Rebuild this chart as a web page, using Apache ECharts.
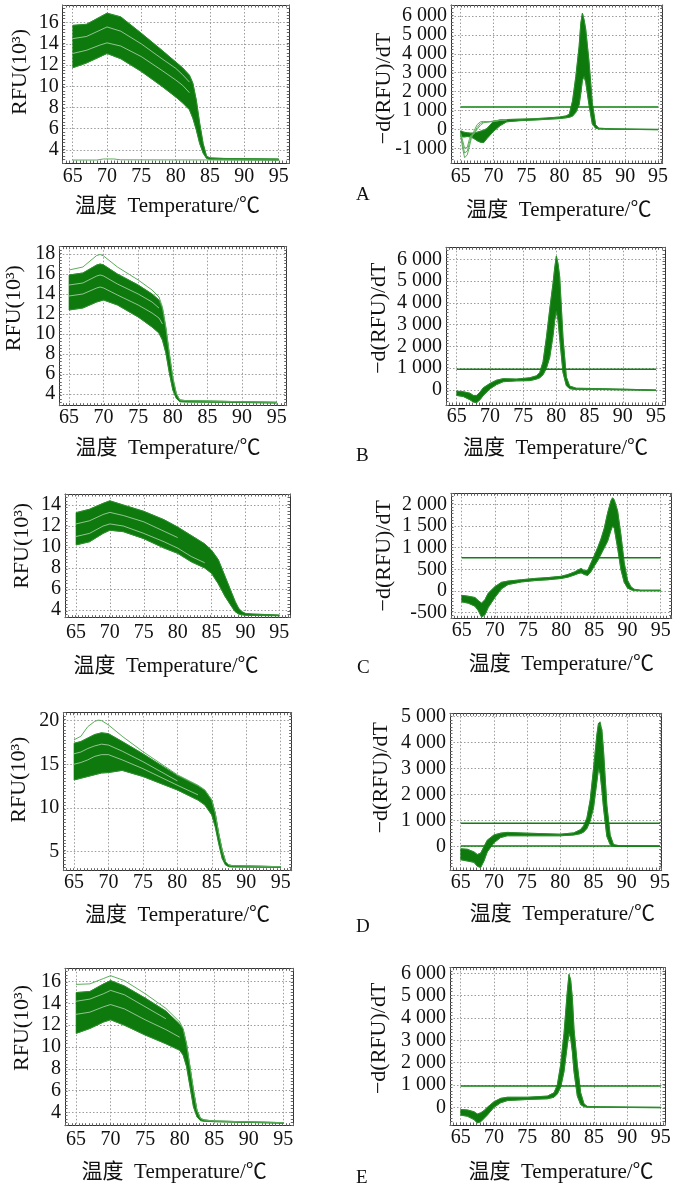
<!DOCTYPE html>
<html><head><meta charset="utf-8">
<script src="https://cdn.jsdelivr.net/npm/echarts@6/dist/echarts.min.js"></script>
<style>html,body{margin:0;padding:0;background:#fff}#c{width:674px;height:1185px}</style>
</head><body><div id="c"></div>
<script>
// ---------- tick labels ----------
const X_TICKS = [65, 70, 75, 80, 85, 90, 95];
const Y_AL = [4, 6, 8, 10, 12, 14, 16];
const Y_AR = [-1000, 0, 1000, 2000, 3000, 4000, 5000, 6000];
const Y_BL = [4, 6, 8, 10, 12, 14, 16, 18];
const Y_BR = [0, 1000, 2000, 3000, 4000, 5000, 6000];
const Y_CL = [4, 6, 8, 10, 12, 14];
const Y_CR = [-500, 0, 500, 1000, 1500, 2000];
const Y_DL = [5, 10, 15, 20];
const Y_DR = [0, 1000, 2000, 3000, 4000, 5000];
const Y_EL = [4, 6, 8, 10, 12, 14, 16];
const Y_ER = [0, 1000, 2000, 3000, 4000, 5000, 6000];
const X_NAME = '温度  Temperature/℃';
const Y_NAME_L = 'RFU(10³)';
const Y_NAME_R = '−d(RFU)/dT';
const LETTERS = ['A', 'B', 'C', 'D', 'E'];
const T_THR = [65, 95];

// ---------- A ----------
const T_AL = [65, 67, 69, 70, 72, 75, 78, 80, 81, 82, 82.5, 83, 83.5, 84, 84.5, 85, 87, 95];
const AL_UP = [15.75, 15.85, 16.55, 16.9, 16.55, 15.0, 13.4, 12.3, 11.75, 11.05, 10.3, 8.7, 6.5, 4.6, 3.4, 3.25, 3.2, 3.15];
const AL_LO = [11.75, 12.2, 12.8, 13.1, 12.6, 11.4, 10.0, 9.0, 8.45, 7.8, 7.0, 5.9, 4.6, 3.7, 3.2, 3.1, 3.08, 3.05];
const AL_S1 = [13.1, 13.4, 13.9, 14.1, 13.8, 12.8, 11.5, 10.6, 10.1, 9.4, null, null, null, null, null, null, null, null];
const AL_S2 = [14.5, 14.7, 15.3, 15.6, 15.2, 14.0, 12.6, 11.7, 11.1, 10.4, null, null, null, null, null, null, null, null];
const AL_CTRL_T = [65, 68.5, 69.5, 71, 72, 95];
const AL_CTRL = [3.05, 3.05, 3.15, 3.15, 3.07, 3.05];

const T_AR = [65, 65.5, 66, 66.5, 67, 67.5, 68, 68.5, 69, 70, 71, 72, 74, 76, 78, 80, 81, 81.5, 82, 82.5, 83, 83.25, 83.5, 83.75, 84, 84.5, 85, 85.5, 86, 88, 90, 95];
const AR_UP = [-80, -150, -180, -200, -200, -150, -100, -50, 50, 430, 500, 520, 540, 560, 600, 650, 710, 800, 1500, 2800, 4400, 5600, 6150, 5800, 5300, 3600, 1400, 250, 60, 30, 20, 0];
const AR_LO = [-380, -400, -380, -400, -480, -600, -680, -700, -480, -100, 200, 400, 460, 490, 530, 570, 610, 640, 700, 900, 1300, 1900, 2600, 2800, 2500, 1300, 300, 60, 20, 0, 0, -20];
const T_ARO = [65, 65.3, 65.6, 66, 66.3, 66.6, 67, 67.5, 68, 68.5, 69, 70, 71, 72];
const ARO1 = [-300, -1000, -1500, -1350, -950, -500, -100, 250, 400, 420, 400, 430, 480, 510];
const ARO2 = [-250, -800, -1250, -1150, -750, -400, -200, 100, 320, 380, 400, 430, 480, 510];
const ARO3 = [-200, -600, -1000, -950, -550, -300, -250, 0, 220, 350, 380, 420, 470, 510];
const AR_THR = [1180, 1180];

// ---------- B ----------
const T_BL = [65, 67, 69, 69.5, 70, 72, 75, 77, 78, 78.5, 79, 79.5, 80, 80.5, 81, 82, 90, 95];
const BL_OUT = [16.4, 16.7, 17.85, 17.95, 17.8, 16.7, 15.4, 14.4, 13.7, 12.7, 10.7, 8.1, 5.7, 4.1, 3.4, 3.33, 3.23, 3.17];
const BL_UP = [15.9, 16.1, 16.9, 17.0, 16.9, 16.0, 14.9, 14.0, 13.4, 12.5, 10.5, 7.9, 5.5, 4.0, 3.4, 3.33, 3.23, 3.17];
const BL_LO = [12.4, 12.6, 13.2, 13.3, 13.4, 12.9, 11.7, 10.7, 10.1, 9.4, 8.1, 6.1, 4.4, 3.57, 3.23, 3.2, 3.15, 3.1];
const BL_S1 = [13.8, 14.0, 14.6, 14.7, 14.6, 13.9, 12.9, 12.1, 11.6, 11.0, null, null, null, null, null, null, null, null];
const BL_S2 = [14.9, 15.1, 15.8, 15.9, 15.8, 15.0, 14.0, 13.2, 12.6, null, null, null, null, null, null, null, null, null];

const T_BR = [65, 66, 67, 67.5, 68, 68.5, 69, 70, 71, 72, 74, 76, 77, 77.5, 78, 78.5, 79, 79.5, 79.75, 80, 80.25, 80.5, 81, 81.5, 82, 83, 87, 95];
const BR_UP = [-50, -80, -150, -250, -250, -100, 100, 300, 450, 520, 500, 560, 650, 800, 1300, 2400, 3700, 4900, 5600, 6150, 5800, 5200, 2400, 600, 180, 80, 60, 0];
const BR_LO = [-250, -300, -450, -550, -580, -450, -250, 50, 250, 380, 420, 430, 500, 560, 700, 1000, 1500, 2500, 3200, 3600, 3200, 2400, 800, 200, 60, 20, 20, -20];
const BR_THR = [950, 950];

// ---------- C ----------
const T_CL = [65, 67, 69, 70, 72, 75, 78, 80, 82, 84, 85, 86, 87, 88, 88.5, 89, 89.5, 90, 91, 95];
const CL_UP = [13.27, 13.6, 14.16, 14.4, 14.0, 13.4, 12.6, 11.9, 11.1, 10.3, 9.7, 8.8, 7.2, 5.6, 4.8, 4.16, 3.84, 3.68, 3.62, 3.52];
const CL_LO = [10.2, 10.5, 11.3, 11.6, 11.46, 10.8, 9.9, 9.4, 8.6, 8.0, 7.5, 6.5, 5.3, 4.3, 3.84, 3.62, 3.55, 3.5, 3.48, 3.46];
const CL_S1 = [11.0, 11.3, 12.0, 12.2, 12.0, 11.3, 10.5, 9.9, 9.1, 8.5, null, null, null, null, null, null, null, null, null, null];
const CL_S2 = [12.2, 12.5, 13.1, 13.3, 13.0, 12.4, 11.5, 10.9, null, null, null, null, null, null, null, null, null, null, null, null];

const T_CR = [65, 66, 67, 67.5, 68, 68.5, 69, 70, 71, 72, 74, 76, 78, 80, 81, 82, 82.5, 83, 83.5, 84, 84.5, 85, 85.5, 86, 86.5, 87, 87.5, 87.75, 88, 88.5, 89, 89.5, 90, 90.5, 91, 92, 95];
const CR_UP = [-100, -120, -150, -220, -280, -200, -50, 100, 200, 230, 260, 290, 310, 340, 380, 440, 480, 520, 470, 480, 650, 820, 1000, 1200, 1450, 1800, 2080, 2150, 2100, 1850, 1300, 650, 250, 100, 40, 20, 20];
const CR_LO = [-250, -280, -350, -450, -600, -550, -380, -150, 50, 150, 210, 240, 260, 290, 320, 370, 400, 420, 380, 360, 450, 580, 700, 850, 1000, 1150, 1400, 1500, 1450, 1000, 500, 200, 70, 30, 10, 5, 5];
const CR_THR = [770, 770];

// ---------- D ----------
const T_DL = [65, 66, 67, 68, 68.5, 69, 70, 72, 75, 80, 83, 84, 85, 85.5, 86, 86.5, 87, 87.5, 88, 95];
const DL_OUT = [17.8, 18.2, 19.3, 19.9, 20.05, 20.0, 19.5, 18.2, 16.45, 13.8, 12.6, 12.06, 10.9, 9.4, 7.1, 5.2, 3.86, 3.47, 3.4, 3.28];
const DL_UP = [17.4, 17.6, 18.0, 18.4, 18.5, 18.6, 18.5, 17.6, 16.2, 13.7, 12.5, 12.0, 10.9, 9.4, 7.1, 5.2, 3.86, 3.47, 3.4, 3.28];
const DL_LO = [13.2, 13.4, 13.6, 13.8, 13.9, 14.0, 14.05, 14.3, 13.6, 12.06, 10.9, 10.34, 9.2, 7.86, 5.95, 4.24, 3.47, 3.28, 3.25, 3.2];
const DL_S1 = [15.0, 15.2, 15.5, 15.9, 16.0, 16.1, 16.1, 15.5, 14.5, 12.6, 11.5, null, null, null, null, null, null, null, null, null];
const DL_S2 = [16.2, 16.4, 16.8, 17.1, 17.2, 17.3, 17.2, 16.5, 15.3, 13.1, null, null, null, null, null, null, null, null, null, null];

const T_DR = [65, 66, 67, 67.5, 68, 68.5, 69, 70, 71, 72, 75, 80, 82, 83, 83.5, 84, 84.5, 85, 85.5, 85.75, 86, 86.25, 86.5, 87, 87.5, 88, 89, 95];
const DR_UP = [-80, -100, -200, -300, -250, 0, 250, 450, 520, 550, 520, 480, 530, 650, 800, 1100, 1800, 3000, 4300, 4750, 4800, 4500, 3700, 1600, 450, 80, 30, 20];
const DR_LO = [-500, -550, -600, -750, -800, -550, -200, 150, 350, 420, 420, 420, 450, 500, 560, 700, 1000, 1500, 2500, 3000, 2800, 2200, 1500, 400, 80, 20, 10, 10];
const DR_THR = [900, 900];
const DR_BASE = [30, 30];

// ---------- E ----------
const T_EL = [65, 67, 69, 70, 72, 75, 78, 80, 80.5, 81, 81.5, 82, 82.5, 83, 83.5, 85, 95];
const EL_OUT = [15.75, 15.8, 16.3, 16.55, 16.1, 14.9, 13.55, 12.3, 11.7, 10.3, 8.2, 6.05, 4.2, 3.45, 3.3, 3.2, 3.05];
const EL_UP = [15.0, 15.1, 15.8, 16.1, 15.6, 14.5, 13.3, 12.1, 11.6, 10.2, 8.1, 6.0, 4.2, 3.45, 3.3, 3.2, 3.05];
const EL_LO = [11.25, 11.7, 12.3, 12.5, 12.0, 11.1, 10.3, 9.7, 9.27, 8.2, 6.36, 4.5, 3.6, 3.24, 3.18, 3.14, 3.0];
const EL_S1 = [13.0, 13.2, 13.7, 13.9, 13.5, 12.5, 11.6, 10.9, null, null, null, null, null, null, null, null, null];
const EL_S2 = [14.2, 14.4, 14.9, 15.2, 14.8, 13.7, 12.6, null, null, null, null, null, null, null, null, null, null];

const T_ER = [65, 66, 67, 67.5, 68, 68.5, 69, 70, 71, 72, 75, 78, 79, 79.5, 80, 80.5, 81, 81.25, 81.5, 81.75, 82, 82.5, 83, 83.5, 84, 86, 95];
const ER_UP = [-100, -120, -200, -300, -250, -150, 0, 250, 400, 450, 450, 500, 650, 1000, 1900, 3300, 5200, 5950, 5700, 4900, 3500, 1900, 650, 150, 40, 20, 0];
const ER_LO = [-350, -400, -550, -700, -650, -500, -350, 0, 200, 300, 350, 380, 450, 600, 900, 1600, 2800, 3300, 3100, 2500, 1600, 500, 120, 30, 0, 0, -20];
const ER_THR = [950, 950];

// ---------- styles ----------
const FONT = '"Liberation Serif","Times New Roman","Noto Sans CJK SC",serif';
const BAND = '#0e7a0e';
const EDGE = '#2b8f2b';
const STREAK = 'rgba(255,255,255,0.55)';
const LIGHT = '#5cae5c';
const THR = '#0f7f0f';

const PANELS = [
  {box:[62.7,5,226.6,158], x:[63.54,96.55], y:[2.77,17.67], yt:Y_AL, side:'L', xm:4, xg:33, xpad:[0,17,0,0], yg:31, ypad:[0,0,0,24],
   bands:[[T_AL,AL_UP,AL_LO]], streaks:[[T_AL,AL_S1],[T_AL,AL_S2]], extras:[[AL_CTRL_T,AL_CTRL]], thr:[]},
  {box:[451,5,211.7,158], x:[63.53,95.7], y:[-1780,6580], yt:Y_AR, side:'R', xm:4, xg:37, xpad:[0,0,0,4], yg:56, ypad:[0,9,0,0],
   bands:[[T_AR,AR_UP,AR_LO]], streaks:[], extras:[[T_ARO,ARO1],[T_ARO,ARO2],[T_ARO,ARO3]], thr:[AR_THR]},
  {box:[59.3,246.7,227.4,159], x:[63.6,96.45], y:[2.83,18.73], yt:Y_BL, side:'L', xm:2, xg:32, xpad:[0,10,0,0], yg:34, ypad:[0,0,0,36],
   bands:[[T_BL,BL_UP,BL_LO]], streaks:[[T_BL,BL_S1],[T_BL,BL_S2]], extras:[[T_BL,BL_OUT]], thr:[]},
  {box:[446,247.3,219,157.7], x:[63.39,96.35], y:[-689,6551], yt:Y_BR, side:'R', xm:2, xg:33, xpad:[0,0,0,0], yg:56, ypad:[0,0,0,16],
   bands:[[T_BR,BR_UP,BR_LO]], streaks:[], extras:[], thr:[BR_THR]},
  {box:[65,494,225,123.7], x:[63.38,96.58], y:[3.27,15.05], yt:Y_CL, side:'L', xm:5, xg:38, xpad:[0,23,0,0], yg:31.5, ypad:[0,0,0,20],
   bands:[[T_CL,CL_UP,CL_LO]], streaks:[[T_CL,CL_S1],[T_CL,CL_S2]], extras:[], thr:[]},
  {box:[451,493.3,220.7,125], x:[63.39,96.66], y:[-629,2254], yt:Y_CR, side:'R', xm:2, xg:36, xpad:[0,0,0,0], yg:56, ypad:[0,0,0,0],
   bands:[[T_CR,CR_UP,CR_LO]], streaks:[], extras:[], thr:[CR_THR]},
  {box:[63.3,712.7,228.4,158], x:[63.45,96.6], y:[2.82,20.9], yt:Y_DL, side:'L', xm:2, xg:34, xpad:[0,0,0,0], yg:33, ypad:[0,0,0,24],
   bands:[[T_DL,DL_UP,DL_LO]], streaks:[[T_DL,DL_S1],[T_DL,DL_S2]], extras:[[T_DL,DL_OUT]], thr:[]},
  {box:[450,713.3,211.7,156.7], x:[63.39,95.26], y:[-896,5128], yt:Y_DR, side:'R', xm:3, xg:34, xpad:[0,0,0,13], yg:58, ypad:[0,0,0,28],
   bands:[[T_DR,DR_UP,DR_LO]], streaks:[], extras:[], thr:[DR_THR,DR_BASE]},
  {box:[65,968.3,228.3,157.4], x:[63.4,96.45], y:[2.77,17.23], yt:Y_EL, side:'L', xm:4, xg:36, xpad:[0,10,0,0], yg:31.5, ypad:[0,0,0,38],
   bands:[[T_EL,EL_UP,EL_LO]], streaks:[[T_EL,EL_S1],[T_EL,EL_S2]], extras:[[T_EL,EL_OUT]], thr:[]},
  {box:[450,967.7,215,157.3], x:[63.4,95.65], y:[-793,6250], yt:Y_ER, side:'R', xm:3, xg:37, xpad:[0,0,0,7], yg:60, ypad:[0,0,0,16],
   bands:[[T_ER,ER_UP,ER_LO]], streaks:[], extras:[], thr:[ER_THR]}
];
const LETTER_POS = [[356,186],[356,447],[357,659],[356,918],[356,1169]];

function fmtR(v) {
  const a = Math.abs(v);
  let s = String(a);
  if (a >= 1000) s = s.slice(0, -3) + ' ' + s.slice(-3);
  return (v < 0 ? '-' : '') + s;
}
function fmtL(v) { return String(v); }
function pairs(T, V) {
  const out = [];
  for (let i = 0; i < T.length; i++) if (V[i] != null) out.push([T[i], V[i]]);
  return out;
}

const grids = [], xAxes = [], yAxes = [], series = [], titles = [];
PANELS.forEach(function (p, gi) {
  const [l, t, w, h] = p.box;
  grids.push({left: l, top: t, width: w, height: h, show: false, outerBoundsMode: 'none', containLabel: false});
  const txt = {fontFamily: FONT, color: '#111'};
  const xi = xAxes.length, yi = yAxes.length;
  xAxes.push({gridIndex: gi, type: 'value', min: p.x[0], max: p.x[1], position: 'bottom',
    axisLine: {show: true, onZero: false, lineStyle: {color: '#333', width: 1}},
    axisTick: {show: false, customValues: X_TICKS},
    axisLabel: Object.assign({customValues: X_TICKS, fontSize: 20, margin: p.xm, hideOverlap: false}, txt),
    splitLine: {show: true, lineStyle: {color: '#9c9c9c', type: [1.5, 2], width: 1}},
    name: X_NAME, nameLocation: 'middle', nameGap: p.xg, nameMoveOverlap: false,
    nameTextStyle: Object.assign({fontSize: 21, padding: p.xpad}, txt)});
  ['bottom', 'top'].forEach(function (pos) {
    xAxes.push({gridIndex: gi, type: 'value', min: p.x[0], max: p.x[1], position: pos, interval: 0.5,
      axisLine: {show: pos === 'top', onZero: false, lineStyle: {color: '#333', width: 1}},
      axisTick: {show: true, inside: true, length: 2.5, lineStyle: {color: '#666'}},
      axisLabel: {show: false}, splitLine: {show: false}});
  });
  const fmt = p.side === 'R' ? fmtR : fmtL;
  const evenT = p.yt.filter(function (v, i) { return i % 2 === 0; });
  const oddT = p.yt.filter(function (v, i) { return i % 2 === 1; });
  // main y axis: frame line, grid lines, name, every other label
  yAxes.push({gridIndex: gi, type: 'value', min: p.y[0], max: p.y[1], position: 'left',
    axisLine: {show: true, onZero: false, lineStyle: {color: '#333', width: 1}},
    axisTick: {show: false, customValues: p.yt},
    axisLabel: Object.assign({customValues: evenT, fontSize: 20, margin: 4, hideOverlap: false,
      showMinLabel: true, showMaxLabel: true, formatter: fmt}, txt),
    splitLine: {show: true, lineStyle: {color: '#9c9c9c', type: [1.5, 2], width: 1}},
    name: p.side === 'R' ? Y_NAME_R : Y_NAME_L, nameLocation: 'middle', nameGap: p.yg, nameMoveOverlap: false,
    nameTextStyle: Object.assign({fontSize: 22, padding: p.ypad}, txt)});
  // companion axis carrying the remaining labels
  yAxes.push({gridIndex: gi, type: 'value', min: p.y[0], max: p.y[1], position: 'left',
    axisLine: {show: false}, axisTick: {show: false, customValues: oddT}, splitLine: {show: false},
    axisLabel: Object.assign({customValues: oddT, fontSize: 20, margin: 4, hideOverlap: false,
      showMinLabel: true, showMaxLabel: true, formatter: fmt}, txt)});
  const yint = (p.y[1] - p.y[0]) / Math.round(h / 3.4);
  ['left', 'right'].forEach(function (pos) {
    yAxes.push({gridIndex: gi, type: 'value', min: p.y[0], max: p.y[1], position: pos, interval: yint,
      axisLine: {show: pos === 'right', onZero: false, lineStyle: {color: '#333', width: 1}},
      axisTick: {show: true, inside: true, length: 2.5, lineStyle: {color: '#666'}},
      axisLabel: {show: false}, splitLine: {show: false}});
  });
  p.bands.forEach(function (b) {
    const T = b[0], up = b[1], lo = b[2];
    series.push({type: 'custom', xAxisIndex: xi, yAxisIndex: yi, silent: true, animation: false, clip: true, z: 2,
      data: T.map(function (tt, i) { return [tt, lo[i], up[i]]; }),
      encode: {x: 0, y: [1, 2]},
      renderItem: function (params, api) {
        if (params.dataIndex !== 0) return null;
        const pts = [];
        for (let i = 0; i < T.length; i++) pts.push(api.coord([T[i], up[i]]));
        for (let i = T.length - 1; i >= 0; i--) pts.push(api.coord([T[i], lo[i]]));
        return {type: 'polygon', shape: {points: pts}, style: {fill: BAND, stroke: BAND, lineWidth: 0.6}};
      }});
    [up, lo].forEach(function (v) {
      series.push({type: 'line', xAxisIndex: xi, yAxisIndex: yi, data: pairs(T, v), symbol: 'none', silent: true,
        animation: false, z: 3, lineStyle: {color: EDGE, width: 1}});
    });
  });
  p.streaks.forEach(function (s) {
    series.push({type: 'line', xAxisIndex: xi, yAxisIndex: yi, data: pairs(s[0], s[1]), symbol: 'none', silent: true,
      animation: false, z: 4, lineStyle: {color: STREAK, width: 1}});
  });
  p.extras.forEach(function (s) {
    series.push({type: 'line', xAxisIndex: xi, yAxisIndex: yi, data: pairs(s[0], s[1]), symbol: 'none', silent: true,
      animation: false, z: 5, lineStyle: {color: LIGHT, width: 1}});
  });
  p.thr.forEach(function (v) {
    series.push({type: 'line', xAxisIndex: xi, yAxisIndex: yi, data: pairs(T_THR, v), symbol: 'none', silent: true,
      animation: false, z: 5, lineStyle: {color: THR, width: 1.5}});
  });
});
LETTERS.forEach(function (L, i) {
  titles.push({text: L, left: LETTER_POS[i][0], top: LETTER_POS[i][1], padding: 0,
    textStyle: {fontFamily: FONT, fontSize: 19, fontWeight: 'normal', color: '#111'}});
});

const chart = echarts.init(document.getElementById('c'), null, {renderer: 'canvas'});
chart.setOption({animation: false, backgroundColor: '#fff', title: titles, grid: grids,
  xAxis: xAxes, yAxis: yAxes, series: series});
</script></body></html>
